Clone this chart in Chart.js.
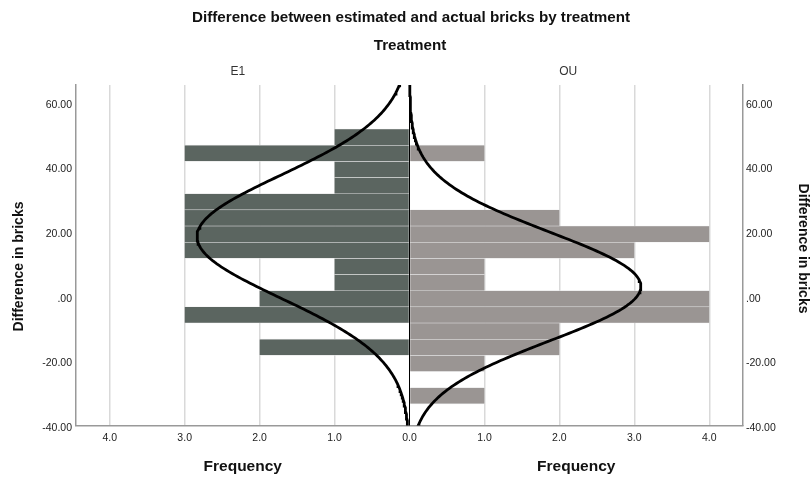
<!DOCTYPE html>
<html>
<head>
<meta charset="utf-8">
<script src="https://cdn.jsdelivr.net/npm/chart.js@4.4.1/dist/chart.umd.min.js"></script>
<style>
  html, body { margin: 0; padding: 0; background: #fff; }
  #wrap { width: 811px; height: 477px; position: relative; }
</style>
</head>
<body>
<div id="wrap"><canvas id="c" width="811" height="477"></canvas></div>
<script>
// Histogram bins (centre of each 5-brick bin), bottom to top
const binCenters = [-30.8, -25.8, -20.8, -15.8, -10.8, -5.8, -0.8, 4.2, 9.2, 14.2, 19.2, 24.2, 29.2, 34.2, 39.2, 44.2, 49.2];
const binWidth = 5;

// Frequencies per bin for each treatment group
const e1Counts = [0, 0, 0, 2, 0, 3, 2, 1, 1, 3, 3, 3, 3, 1, 1, 3, 1];
const ouCounts = [1, 0, 1, 2, 2, 4, 4, 1, 1, 3, 4, 2, 0, 0, 0, 1, 0];

// Normal curve parameters for each group
const e1Mean = 18.4, e1Sd = 19.0;
const ouMean = 3.0,  ouSd = 16.8;

// Axis ticks
const freqTicks = [-4, -3, -2, -1, 0, 1, 2, 3, 4];
const yTicks = [-40, -20, 0, 20, 40, 60];
const yMin = -40, yMax = 65.3;

const FONT = "'Liberation Sans', Arial, Helvetica, sans-serif";

function normalCurve(mean, sd, n, sign) {
  const pts = [];
  const scale = n * binWidth / (sd * Math.sqrt(2 * Math.PI));
  for (let y = yMin - 2; y <= yMax + 2; y += 0.5) {
    const z = (y - mean) / sd;
    pts.push({ y: y, x: sign * scale * Math.exp(-0.5 * z * z) });
  }
  return pts;
}
const sum = a => a.reduce((s, v) => s + v, 0);

const barCommon = {
  borderWidth: { top: 0.6, bottom: 0.6, left: 0, right: 0 },
  borderColor: 'rgba(225,225,225,0.95)',
  borderSkipped: false,
  grouped: false,
  barPercentage: 1,
  categoryPercentage: 1,
  order: 2
};

// Titles and panel labels
const textPlugin = {
  id: 'panelText',
  afterDraw(chart) {
    const { ctx, chartArea } = chart;
    const zeroX = chart.scales.x.getPixelForValue(0);
    const leftMid = (chartArea.left + zeroX) / 2;
    const rightMid = (zeroX + chartArea.right) / 2;
    ctx.save();
    ctx.textAlign = 'center';
    ctx.textBaseline = 'middle';
    ctx.fillStyle = '#111';
    ctx.font = 'bold 15.2px ' + FONT;
    ctx.fillText('Difference between estimated and actual bricks by treatment', 411, 18);
    ctx.fillText('Treatment', 410, 45.5);
    ctx.font = '12px ' + FONT;
    ctx.fillStyle = '#333';
    ctx.fillText('E1', leftMid - 5, 72);
    ctx.fillText('OU', rightMid - 8, 72);
    ctx.fillStyle = '#111';
    ctx.font = 'bold 15.5px ' + FONT;
    ctx.fillText('Frequency', leftMid, 466.5);
    ctx.fillText('Frequency', rightMid, 466.5);
    ctx.font = 'bold 14px ' + FONT;
    ctx.save();
    ctx.translate(19.5, 266.5);
    ctx.rotate(-Math.PI / 2);
    ctx.fillText('Difference in bricks', 0, 0);
    ctx.restore();
    ctx.save();
    ctx.translate(803, 248.5);
    ctx.rotate(Math.PI / 2);
    ctx.fillText('Difference in bricks', 0, 0);
    ctx.restore();
    ctx.restore();
  },
  afterDatasetsDraw(chart) {
    // dividing line between the two panels
    const { ctx, chartArea } = chart;
    const x0 = Math.round(chart.scales.x.getPixelForValue(0)) - 0.5;
    ctx.save();
    ctx.strokeStyle = '#000';
    ctx.lineWidth = 1;
    ctx.beginPath();
    ctx.moveTo(x0, chartArea.top);
    ctx.lineTo(x0, chartArea.bottom);
    ctx.stroke();
    ctx.restore();
  }
};

const yTickLabel = v => (v === 0 ? '.00' : v.toFixed(2));
const tickFont = { family: FONT, size: 10.5 };

new Chart(document.getElementById('c'), {
  type: 'bar',
  data: {
    datasets: [
      Object.assign({
        label: 'E1',
        data: binCenters.map((b, i) => ({ y: b, x: -e1Counts[i] })),
        backgroundColor: '#5b6560'
      }, barCommon),
      Object.assign({
        label: 'OU',
        data: binCenters.map((b, i) => ({ y: b, x: ouCounts[i] })),
        backgroundColor: '#9a9593'
      }, barCommon),
      {
        type: 'line',
        label: 'E1 normal',
        indexAxis: 'y',
        data: normalCurve(e1Mean, e1Sd, sum(e1Counts), -1),
        borderColor: '#000',
        borderWidth: 2.8,
        pointRadius: 0,
        fill: false,
        tension: 0,
        order: 0
      },
      {
        type: 'line',
        label: 'OU normal',
        indexAxis: 'y',
        data: normalCurve(ouMean, ouSd, sum(ouCounts), 1),
        borderColor: '#000',
        borderWidth: 2.8,
        pointRadius: 0,
        fill: false,
        tension: 0,
        order: 0
      }
    ]
  },
  options: {
    indexAxis: 'y',
    responsive: false,
    animation: false,
    layout: { padding: { top: 85, left: 0, right: 0, bottom: 0 } },
    plugins: { legend: { display: false }, tooltip: { enabled: false }, title: { display: false } },
    scales: {
      x: {
        type: 'linear',
        position: 'bottom',
        min: -4.45,
        max: 4.45,
        offset: false,
        afterBuildTicks: s => { s.ticks = freqTicks.map(v => ({ value: v })); },
        afterFit: s => { s.height = 51.5; },
        ticks: {
          callback: v => Math.abs(v).toFixed(1),
          font: tickFont,
          color: '#222',
          padding: 6,
          maxRotation: 0
        },
        grid: {
          offset: false,
          color: c => (c.tick && c.tick.value === 0 ? 'rgba(0,0,0,0)' : '#d9d9d9'),
          lineWidth: 1.5,
          drawTicks: false
        },
        border: { display: true, color: '#999', width: 1.5 }
      },
      y: {
        type: 'linear',
        position: 'left',
        min: yMin,
        max: yMax,
        offset: false,
        afterBuildTicks: s => { s.ticks = yTicks.map(v => ({ value: v })); },
        afterFit: s => { s.width = 76; },
        ticks: { callback: yTickLabel, font: tickFont, color: '#222', padding: 4, labelOffset: 2.5 },
        grid: { display: false, drawTicks: false, offset: false },
        border: { display: true, color: '#999', width: 1.5 }
      },
      y2: {
        type: 'linear',
        position: 'right',
        min: yMin,
        max: yMax,
        offset: false,
        afterBuildTicks: s => { s.ticks = yTicks.map(v => ({ value: v })); },
        afterFit: s => { s.width = 68; },
        ticks: { callback: yTickLabel, font: tickFont, color: '#222', padding: 3, labelOffset: 2.5 },
        grid: { display: false, drawTicks: false, offset: false },
        border: { display: true, color: '#999', width: 1.5 }
      }
    }
  },
  plugins: [textPlugin]
});
</script>
</body>
</html>
